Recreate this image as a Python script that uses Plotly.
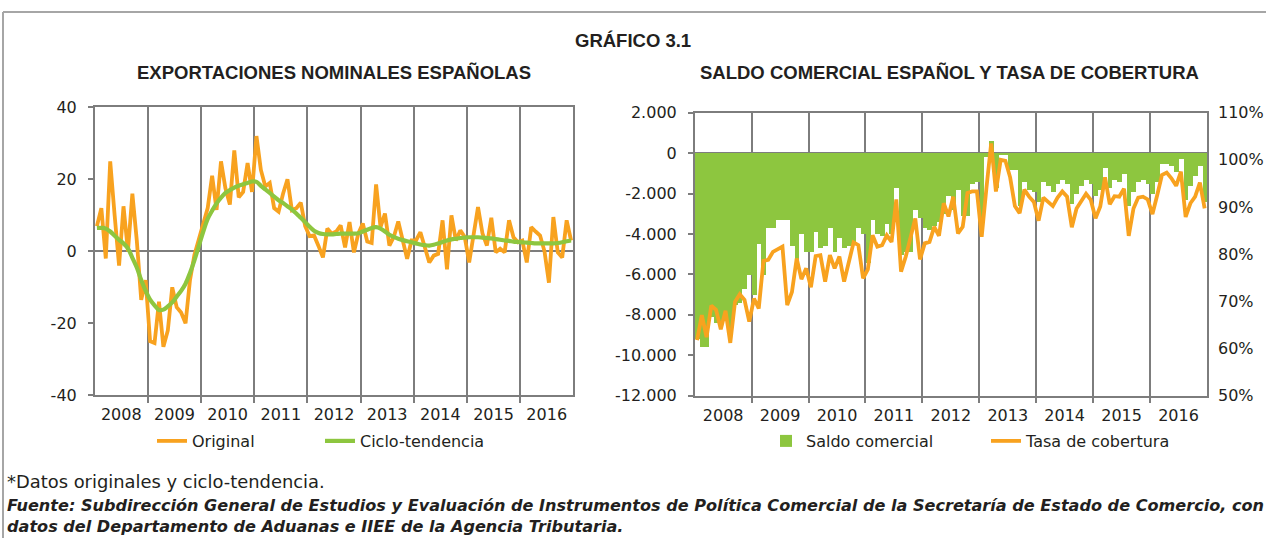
import plotly.graph_objects as go

# ---------------- data ----------------
years = ["2008", "2009", "2010", "2011", "2012", "2013", "2014", "2015", "2016"]
months = list(range(108))  # monthly index Jan-2008 .. Dec-2016

original = [
    7, 12, -2, 25, 10, -4, 12.5, 0, 16, 3, -13.5, -8,
    -25, -25.5, -14, -26.5, -22, -10, -15.5, -17, -20, -8, -1, 3.5,
    7.5, 12, 21, 11.5, 25, 17.5, 13, 28, 15, 16.5, 24.5, 16.5,
    32, 22.6, 18, 19, 12, 11, 16, 20, 11.4, 12, 13.5, 7,
    4.2, 4.4, 1.5, -1.7, 6.3, 4.9, 5.5, 7.2, 1.1, 8.1, -0.3, 5,
    7.7, 2.7, 2.3, 18.6, 6.7, 10.5, 1.6, 4, 8.3, 3, -2.1, 3,
    3, 5.3, 1, -3.1, -1.2, -0.7, 8.6, -5, 10, 3, 5.8, 4,
    -3.1, 5, 12.3, 5, 1.6, 9.3, -0.3, 0.7, -0.3, 8.6, 3.9, 2.5,
    3, -3.1, 6.7, 5.5, 4.4, 0, -8.7, 9.5, -0.3, -1.7, 8.6, 3,
]

ciclo = [
    6.5, 6.5, 6.3, 5.5, 4.3, 3.2, 2.2, 0.8, -1.8, -4.5, -8, -11,
    -13.4, -15, -16.3, -16.2, -15.3, -14.2, -12.6, -11, -9, -6, -2.5, 1.5,
    5.5, 9, 11.3, 13.3, 14.9, 16.2, 17, 17.7, 18.2, 18.6, 19, 19.4,
    19.3, 18.2, 17.2, 16.2, 15.2, 14.2, 13.4, 12.5, 11.6, 10.5, 9.3, 8.1,
    6.8, 5.7, 5.1, 4.8, 4.7, 4.7, 4.8, 4.9, 4.9, 4.9, 4.9, 5.0,
    5.5, 6.0, 6.5, 6.7, 6.3, 5.5, 4.6, 4.0, 3.5, 3.1, 2.8, 2.5,
    2.2, 1.9, 1.7, 1.6, 1.8, 2.2, 2.6, 3.0, 3.3, 3.5, 3.7, 3.8,
    3.9, 3.9, 3.9, 3.8, 3.7, 3.6, 3.4, 3.2, 3.0, 2.9, 2.7, 2.6,
    2.5, 2.4, 2.3, 2.2, 2.2, 2.2, 2.2, 2.2, 2.3, 2.5, 2.8, 3.0,
]

saldo = [
    -9200, -9600, -9600, -8100, -8400, -8600, -8000, -8800, -7500, -7400, -6700, -6000,
    -7000, -4500, -6000, -3700, -3700, -3300, -3300, -3300, -4600, -5500, -4000, -4900,
    -4900, -3900, -4700, -4600, -3700, -4900, -4200, -4700, -4600, -4500, -3700, -4000,
    -5400, -3300, -4000, -4100, -3500, -4000, -1700, -5000, -4900, -4900, -2800, -3200,
    -3700, -3800, -3600, -3400, -3000, -2100, -2800, -1800, -3100, -3100, -1500, -1400,
    -3400, -200, 600, -1700, -100, -50, -800, -800, -2600, -1400, -1800, -1900,
    -2400, -1400, -1600, -1900, -1500, -1300, -1500, -2500, -2000, -1600, -1300, -1500,
    -2100, -1800, -700, -1700, -1300, -1400, -1000, -2600, -1900, -1400, -1300, -1500,
    -2000, -1400, -500, -500, -600, -900, -300, -2300, -1600, -1100, -600, -2400,
]

tasa = [
    61.8, 67.1, 62.4, 69.1, 68.2, 64.1, 68, 61.2, 69.9, 71.5, 70.3, 65.7,
    70.6, 68.5, 78.6, 78.8, 80.5, 81, 81.6, 69.2, 72, 79.1, 74.7, 77,
    73, 79.6, 79.8, 74.2, 79.8, 77, 79.5, 74.2, 78, 82.5, 81.9, 74.9,
    76.8, 84, 81.6, 81.9, 84, 82.6, 91.6, 76.3, 79.5, 84, 87.6, 78.9,
    82.3, 82.6, 85.8, 83.9, 90.8, 88, 92.2, 84.4, 85.8, 93, 93.3, 93.3,
    83.7, 94, 103.5, 93.3, 100, 99.8, 96.3, 90.2, 88.7, 93.7, 92.2, 91.1,
    87.1, 92, 91.1, 90.2, 92, 93.3, 92.2, 85.7, 89.7, 91.1, 92.8, 91.5,
    87.6, 90.1, 96.3, 90.6, 92.3, 92.2, 93.9, 83.9, 89.7, 92, 92.2, 91.6,
    88.5, 92.5, 96.8, 97.3, 96.1, 94.5, 97.5, 87.9, 90.8, 92.2, 95.2, 89.7,
]

year_centers = [5.5, 17.5, 29.5, 41.5, 53.5, 65.5, 77.5, 89.5, 101.5]
year_bounds = [11.5, 23.5, 35.5, 47.5, 59.5, 71.5, 83.5, 95.5]

left_ticks = [-40, -20, 0, 20, 40]
left_labels = ["-40", "-20", "0", "20", "40"]
saldo_ticks = [-12000, -10000, -8000, -6000, -4000, -2000, 0, 2000]
saldo_labels = ["-12.000", "-10.000", "-8.000", "-6.000", "-4.000", "-2.000", "0", "2.000"]
tasa_ticks = [50, 60, 70, 80, 90, 100, 110]
tasa_labels = ["50%", "60%", "70%", "80%", "90%", "100%", "110%"]

# ---------------- style ----------------
ORANGE = "#F8A21F"
GREEN = "#8DC63F"
GRID = "#7d7d7d"
TXT = "#231F20"
W, H = 1266, 538
TICKFONT = dict(family="DejaVu Sans", size=16, color=TXT)
LEGFONT = dict(family="DejaVu Sans", size=16, color=TXT)


def px(x):
    return x / W


def py(y):
    return 1 - y / H


fig = go.Figure()

fig.add_trace(go.Scatter(x=months, y=original, mode="lines", name="Original",
                         line=dict(color=ORANGE, width=3.8), xaxis="x", yaxis="y",
                         legend="legend"))
fig.add_trace(go.Scatter(x=months, y=ciclo, mode="lines", name="Ciclo-tendencia",
                         line=dict(color=GREEN, width=4.2, shape="spline"), xaxis="x", yaxis="y",
                         legend="legend2"))
fig.add_trace(go.Bar(x=months, y=saldo, name="Saldo comercial",
                     marker=dict(color=GREEN, line=dict(width=0)),
                     xaxis="x2", yaxis="y2", legend="legend3"))
fig.add_trace(go.Scatter(x=months, y=tasa, mode="lines", name="Tasa de cobertura",
                         line=dict(color=ORANGE, width=3.8), xaxis="x2", yaxis="y3",
                         legend="legend4"))

xcommon = dict(range=[-0.5, 107.5], tickmode="array", tickvals=year_centers, ticktext=years,
               ticks="", showgrid=False, zeroline=False, showline=True, linecolor=GRID,
               linewidth=1.5, mirror=True, tickfont=TICKFONT, ticklabelstandoff=4,
               minor=dict(tickmode="array", tickvals=year_bounds, showgrid=True,
                          gridcolor=GRID, gridwidth=1.5, ticks="outside", ticklen=6,
                          tickcolor=GRID, tickwidth=1.5))


def leg(x):
    return dict(orientation="h", x=px(x), y=py(441), xanchor="left", yanchor="middle",
                font=LEGFONT, bgcolor="rgba(0,0,0,0)", borderwidth=0)


fig.update_layout(
    width=W, height=H,
    margin=dict(l=0, r=0, t=0, b=0, pad=0, autoexpand=False),
    paper_bgcolor="white", plot_bgcolor="white",
    bargap=0,
    font=dict(family="DejaVu Sans", color=TXT),
    xaxis=dict(domain=[px(94.7), px(573.3)], anchor="y", **xcommon),
    yaxis=dict(domain=[py(395.3), py(107.3)], anchor="x", range=[-40, 40],
               tickmode="array", tickvals=left_ticks, ticktext=left_labels,
               ticks="outside", ticklen=5, tickcolor=GRID, tickwidth=1.5,
               showgrid=False, zeroline=True, zerolinecolor=GRID, zerolinewidth=1.5,
               showline=True, linecolor=GRID, linewidth=1.5, mirror=True,
               tickfont=TICKFONT, ticklabelstandoff=8),
    xaxis2=dict(domain=[px(694.7), px(1207)], anchor="y2", **xcommon),
    yaxis2=dict(domain=[py(395.7), py(112.7)], anchor="x2", range=[-12000, 2000],
                tickmode="array", tickvals=saldo_ticks, ticktext=saldo_labels,
                ticks="outside", ticklen=5, tickcolor=GRID, tickwidth=1.5,
                showgrid=False, zeroline=True, zerolinecolor=GRID, zerolinewidth=1.5,
                showline=True, linecolor=GRID, linewidth=1.5, mirror=True,
                tickfont=TICKFONT, ticklabelstandoff=8),
    yaxis3=dict(overlaying="y2", side="right", anchor="x2", range=[50, 110],
                tickmode="array", tickvals=tasa_ticks, ticktext=tasa_labels,
                ticks="", showgrid=False, zeroline=False, showline=False,
                tickfont=TICKFONT, ticklabelstandoff=10),
    legend=leg(152),
    legend2=leg(320),
    legend3=leg(766),
    legend4=leg(986),
    showlegend=True,
)

annotations = [
    dict(text="<b>GRÁFICO 3.1</b>", x=0.5, y=py(40), xref="paper", yref="paper",
         showarrow=False, xanchor="center", yanchor="middle",
         font=dict(family="Liberation Sans", size=18.5, color=TXT)),
    dict(text="<b>EXPORTACIONES NOMINALES ESPAÑOLAS</b>", x=px(334), y=py(73),
         xref="paper", yref="paper", showarrow=False, xanchor="center", yanchor="middle",
         font=dict(family="Liberation Sans", size=18.5, color=TXT)),
    dict(text="<b>SALDO COMERCIAL ESPAÑOL Y TASA DE COBERTURA</b>", x=px(949), y=py(73),
         xref="paper", yref="paper", showarrow=False, xanchor="center", yanchor="middle",
         font=dict(family="Liberation Sans", size=18.5, color=TXT)),
    dict(text="*Datos originales y ciclo-tendencia.", x=px(5), y=py(481),
         xref="paper", yref="paper", showarrow=False, xanchor="left", yanchor="middle",
         font=dict(family="DejaVu Sans", size=17.9, color=TXT)),
    dict(text="<b><i>Fuente: Subdirección General de Estudios y Evaluación de Instrumentos de "
              "Política Comercial de la Secretaría de Estado de Comercio, con</i></b>",
         x=px(5), y=py(505), xref="paper", yref="paper", showarrow=False,
         xanchor="left", yanchor="middle",
         font=dict(family="DejaVu Sans", size=16.1, color=TXT)),
    dict(text="<b><i>datos del Departamento de Aduanas e IIEE de la Agencia Tributaria.</i></b>",
         x=px(5), y=py(526), xref="paper", yref="paper", showarrow=False,
         xanchor="left", yanchor="middle",
         font=dict(family="DejaVu Sans", size=16.1, color=TXT)),
]
fig.update_layout(annotations=annotations)

fig.update_layout(shapes=[
    dict(type="line", xref="paper", yref="paper", x0=px(3), x1=1, y0=py(12), y1=py(12),
         line=dict(color="#a6a6a6", width=2)),
    dict(type="line", xref="paper", yref="paper", x0=px(3), x1=px(3), y0=0, y1=py(12),
         line=dict(color="#a6a6a6", width=2)),
])

fig.write_html("out.html", config={"displayModeBar": False},
               post_script="document.body.style.margin='0px';")
